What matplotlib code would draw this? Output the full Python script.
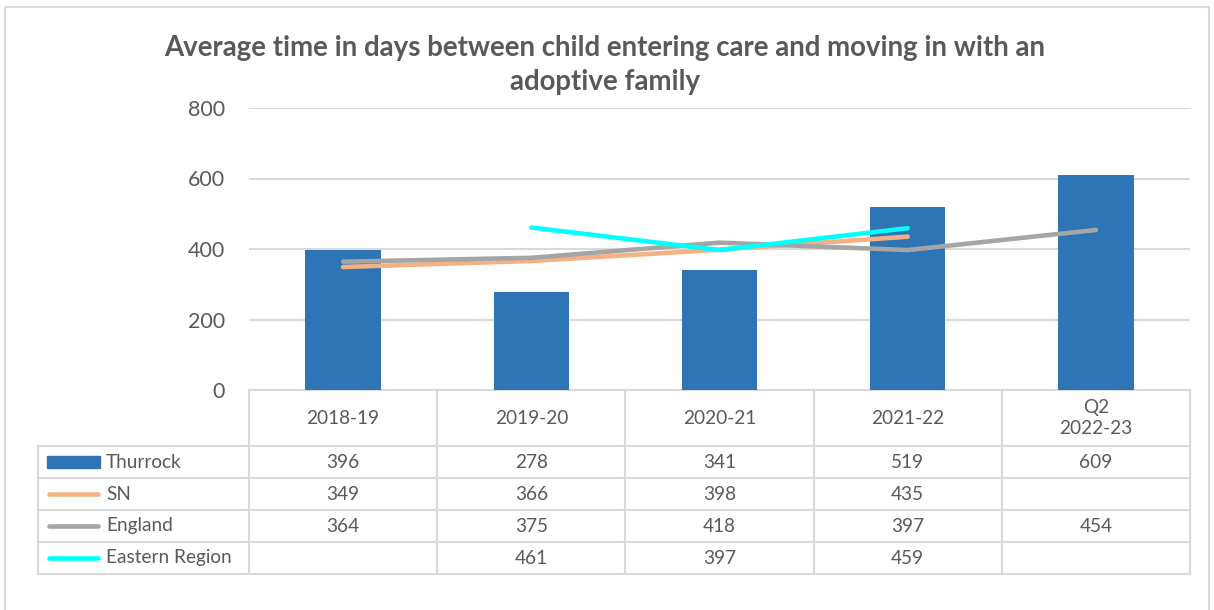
import matplotlib
matplotlib.use("Agg")
import matplotlib.pyplot as plt
import matplotlib.transforms as mtransforms
from matplotlib.patches import Rectangle
import numpy as np

categories = ["2018-19", "2019-20", "2020-21", "2021-22", "Q2\n2022-23"]
thurrock = [396, 278, 341, 519, 609]
sn = [349, 366, 398, 435, None]
england = [364, 375, 418, 397, 454]
eastern = [None, 461, 397, 459, None]
series_names = ["Thurrock", "SN", "England", "Eastern Region"]
y_ticks = [0, 200, 400, 600, 800]
title = "Average time in days between child entering care and moving in with an\nadoptive family"

C_BAR = "#2E75B6"
C_SN = "#F4B183"
C_ENG = "#A5A5A5"
C_EAST = "#00FFFF"
C_TXT = "#595959"
C_GRID = "#D9D9D9"
FONT = "Lato"

W, H = 1214, 610
fig = plt.figure(figsize=(W / 100, H / 100), dpi=100)
fig.patch.set_facecolor("white")

def fx(px):
    return px / W

def fy(py):
    return 1 - py / H

# background overlay in pixel coordinates (top-down)
bg = fig.add_axes([0, 0, 1, 1], zorder=0)
bg.set_xlim(0, W)
bg.set_ylim(H, 0)
bg.axis("off")
bg.patch.set_alpha(0)

# chart frame
bg.add_patch(Rectangle((5, 7), 1204, 620, fill=False, edgecolor=C_GRID, lw=1.5))

ax = fig.add_axes([fx(249), fy(390), fx(1190) - fx(249), fy(108) - fy(390)], zorder=1)
ax.patch.set_alpha(0)
x = np.arange(len(categories))

def arr(v):
    return np.array([np.nan if a is None else a for a in v], dtype=float)

ax.bar(x, thurrock, width=0.4, color=C_BAR, zorder=2)
for vals, col in [(sn, C_SN), (england, C_ENG), (eastern, C_EAST)]:
    ax.plot(x, arr(vals), color=col, lw=3.3, solid_capstyle="round",
            solid_joinstyle="round", zorder=3)

ax.set_xlim(-0.5, len(categories) - 0.5)
ax.set_ylim(0, 800)
ax.set_yticks(y_ticks)
ax.set_yticklabels([str(t) for t in y_ticks], fontsize=15.5, color=C_TXT, family=FONT)
ax.tick_params(axis="y", length=0, pad=17.5)
ax.set_xticks([])
for s in ax.spines.values():
    s.set_visible(False)
ax.yaxis.grid(True, color=C_GRID, lw=1.5, zorder=0)
ax.set_axisbelow(True)

# title
fig.text(fx(605), fy(65), title, ha="center", va="center", fontsize=19.9,
         fontweight="bold", color=C_TXT, family=FONT, linespacing=1.42)

# data table
tr = mtransforms.blended_transform_factory(ax.transData, bg.transData)
row_lines = [446, 478, 510, 542, 574]
left_px = 38
right_x = len(categories) - 0.5
tbl_kw = dict(color=C_GRID, lw=1.5, zorder=1)
TS = 13.7

# header top line (axis line)
ax.plot([-0.5, right_x], [390, 390], transform=tr, clip_on=False, **tbl_kw)
# horizontal lines
for yl in row_lines:
    bg.plot([left_px, 249], [yl, yl], **tbl_kw)
    ax.plot([-0.5, right_x], [yl, yl], transform=tr, clip_on=False, **tbl_kw)
# vertical lines
bg.plot([left_px, left_px], [446, 574], **tbl_kw)
for i in range(len(categories) + 1):
    ax.plot([i - 0.5, i - 0.5], [390, 574], transform=tr, clip_on=False, **tbl_kw)

# header labels
for i, c in enumerate(categories):
    ax.text(i, 418, c, transform=tr, ha="center", va="center", fontsize=TS,
            color=C_TXT, family=FONT, linespacing=1.25)

# rows
all_series = [thurrock, sn, england, eastern]
colors = [C_BAR, C_SN, C_ENG, C_EAST]
for r, (name, vals, col) in enumerate(zip(series_names, all_series, colors)):
    yc = (row_lines[r] + row_lines[r + 1]) / 2
    if r == 0:
        bg.add_patch(Rectangle((47, yc - 6), 53, 12, color=col, zorder=2))
    else:
        bg.plot([49, 98], [yc, yc], color=col, lw=3.3, solid_capstyle="round", zorder=2)
    bg.text(106, yc, name, ha="left", va="center", fontsize=TS, color=C_TXT, family=FONT)
    for i, v in enumerate(vals):
        if v is not None:
            ax.text(i, yc, str(v), transform=tr, ha="center", va="center",
                    fontsize=TS, color=C_TXT, family=FONT)

fig.savefig("out.png", dpi=100, facecolor="white")
